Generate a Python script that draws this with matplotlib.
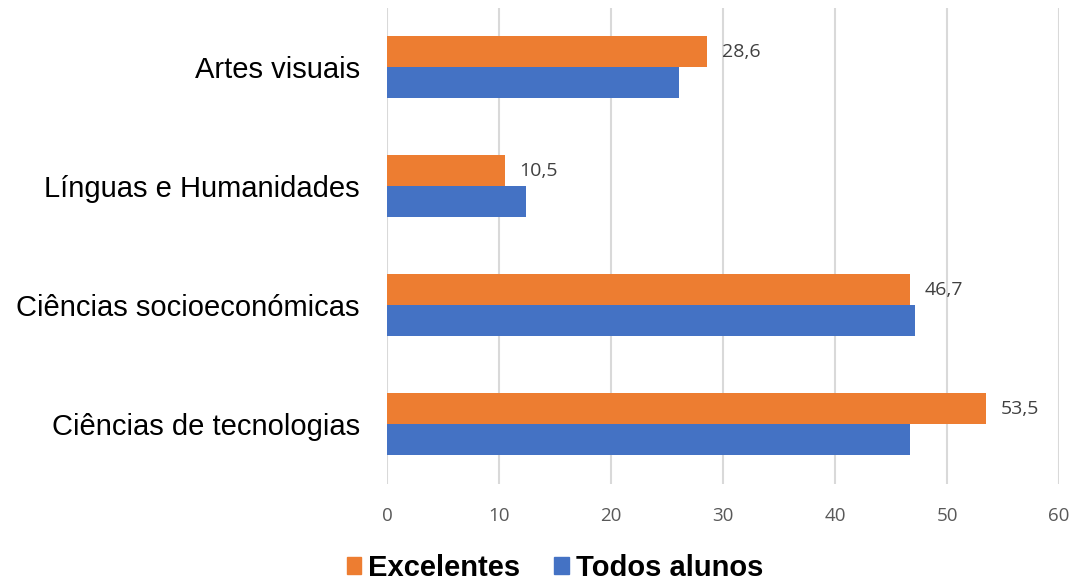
import matplotlib.pyplot as plt
import numpy as np
from matplotlib.patches import Patch

categorias = ["Ciências de tecnologias", "Ciências socioeconómicas",
              "Línguas e Humanidades", "Artes visuais"]
excelentes = [53.5, 46.7, 10.5, 28.6]
todos_alunos = [46.7, 47.1, 12.4, 26.1]
rotulos = ["53,5", "46,7", "10,5", "28,6"]

laranja = "#ED7D31"
azul = "#4472C4"

fig = plt.figure(figsize=(10.76, 5.83), dpi=100)
ax = fig.add_axes([387 / 1076, 1 - 483.5 / 583, 672 / 1076, 476 / 583])

y = np.arange(len(categorias))
h = 0.26
ax.barh(y + h / 2, excelentes, height=h, color=laranja, zorder=3)
ax.barh(y - h / 2, todos_alunos, height=h, color=azul, zorder=3)

for yi, v, txt in zip(y, excelentes, rotulos):
    ax.text(v + 1.3, yi + h / 2, txt, va="center", ha="left",
            fontsize=14, color="#404040", family="Open Sans")

ax.set_xlim(0, 60)
ax.set_ylim(-0.5, len(categorias) - 0.5)
ax.set_xticks(range(0, 61, 10))
ax.set_yticks(y)
ax.set_yticklabels(categorias, fontsize=21, family="Liberation Sans", color="#000000")
for lbl in ax.get_xticklabels():
    lbl.set_family("Open Sans")
    lbl.set_fontsize(13.5)
    lbl.set_color("#595959")
ax.tick_params(axis="both", length=0)
ax.tick_params(axis="x", pad=17)
ax.tick_params(axis="y", pad=19.5)
ax.grid(axis="x", color="#d9d9d9", linewidth=1.5, zorder=0)
for s in ax.spines.values():
    s.set_visible(False)

handles = [Patch(color=laranja, label="Excelentes"),
           Patch(color=azul, label="Todos alunos")]
fig.legend(handles=handles, loc="center", bbox_to_anchor=(555 / 1076, 1 - 568 / 583),
           ncol=2, frameon=False, handlelength=0.5, handleheight=0.5,
           handletextpad=0.25, columnspacing=1.15,
           prop={"family": "Liberation Sans", "weight": "bold", "size": 21})

fig.savefig("out.png", dpi=100)
